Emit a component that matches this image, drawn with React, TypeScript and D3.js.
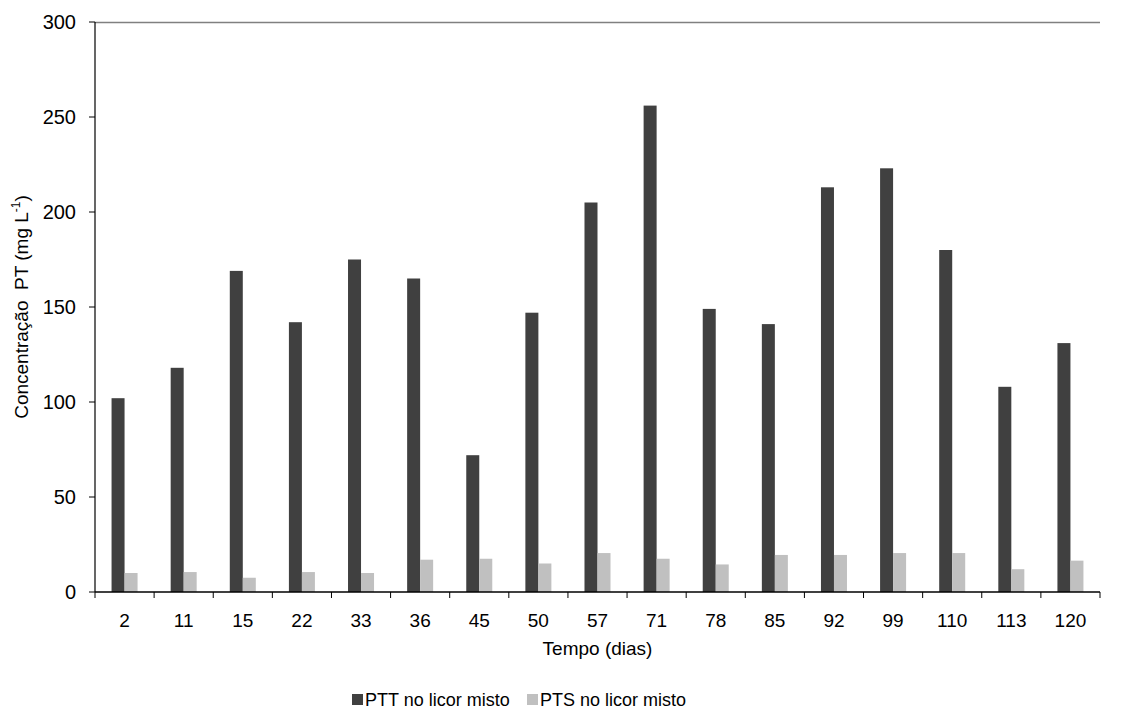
import * as d3 from 'd3';

const days = ['2', '11', '15', '22', '33', '36', '45', '50', '57', '71', '78', '85', '92', '99', '110', '113', '120'];
const pttValues = [102, 118, 169, 142, 175, 165, 72, 147, 205, 256, 149, 141, 213, 223, 180, 108, 131];
const ptsValues = [10, 10.5, 7.5, 10.5, 10, 17, 17.5, 15, 20.5, 17.5, 14.5, 19.5, 19.5, 20.5, 20.5, 12, 16.5];
const yTicks = [0, 50, 100, 150, 200, 250, 300];
const seriesNames = ['PTT no licor misto', 'PTS no licor misto'];
const seriesColors = ['#404040', '#c0c0c0'];

const W = 1142;
const H = 722;
const margin = { top: 22, right: 42, bottom: 130, left: 95 };
const font = '"Liberation Sans", Arial, sans-serif';

export default function App() {
  const innerW = W - margin.left - margin.right;
  const innerH = H - margin.top - margin.bottom;

  const x = d3.scaleBand().domain(days).range([0, innerW]).paddingInner(0).paddingOuter(0);
  const groupW = x.bandwidth() * 0.44;
  const x1 = d3.scaleBand().domain(['0', '1']).range([0, groupW]);
  const y = d3.scaleLinear().domain([0, 300]).range([innerH, 0]);

  const series = [pttValues, ptsValues];

  return (
    <svg width={W} height={H} style={{ position: 'absolute', left: 0, top: 0, background: '#fff' }} fontFamily={font}>
      <g transform={`translate(${margin.left},${margin.top})`}>
        {/* top border */}
        <line x1={0} x2={innerW} y1={0.5} y2={0.5} stroke="#808080" strokeWidth={1.5} />

        {series.map((vals, si) =>
          vals.map((v, i) => {
            const bx = (x(days[i]) ?? 0) + (x.bandwidth() - groupW) / 2 + (x1(String(si)) ?? 0);
            return (
              <rect
                key={`${si}-${i}`}
                x={bx}
                y={y(v)}
                width={x1.bandwidth()}
                height={innerH - y(v)}
                fill={seriesColors[si]}
              />
            );
          })
        )}

        {/* y axis */}
        <line x1={0} x2={0} y1={0} y2={innerH} stroke="#000" strokeWidth={1.2} />
        {yTicks.map(t => (
          <g key={t} transform={`translate(0,${y(t)})`}>
            <line x1={-6} x2={0} stroke="#000" strokeWidth={1} />
            <text x={-19} dy="0.35em" textAnchor="end" fontSize={20} fill="#000">{t}</text>
          </g>
        ))}

        {/* x axis */}
        <line x1={0} x2={innerW} y1={innerH} y2={innerH} stroke="#000" strokeWidth={1.5} />
        {days.map(d => (
          <line
            key={`t${d}`}
            x1={x(d) ?? 0}
            x2={x(d) ?? 0}
            y1={innerH}
            y2={innerH + 6}
            stroke="#000"
          />
        ))}
        <line x1={innerW} x2={innerW} y1={innerH} y2={innerH + 6} stroke="#000" />
        {days.map(d => (
          <text
            key={`l${d}`}
            x={(x(d) ?? 0) + x.bandwidth() / 2}
            y={innerH + 35}
            textAnchor="middle"
            fontSize={19}
            fill="#000"
          >
            {d}
          </text>
        ))}

        <text x={innerW / 2} y={innerH + 63} textAnchor="middle" fontSize={19} fill="#000">
          Tempo (dias)
        </text>

        <text
          transform={`translate(${-67},${innerH / 2}) rotate(-90)`}
          textAnchor="middle"
          fontSize={19}
          fill="#000"
        >
          {'Concentração\u00a0 PT (mg L'}
          <tspan dy={-8} fontSize={12}>-1</tspan>
          <tspan dy={8}>)</tspan>
        </text>
      </g>

      {/* legend */}
      <g transform="translate(352,700)">
        {seriesNames.map((name, i) => (
          <g key={name} transform={`translate(${i * 175},0)`}>
            <rect x={0} y={-6} width={11} height={11} fill={seriesColors[i]} />
            <text x={13} dy="0.35em" fontSize={18} fill="#000">{name}</text>
          </g>
        ))}
      </g>
    </svg>
  );
}
